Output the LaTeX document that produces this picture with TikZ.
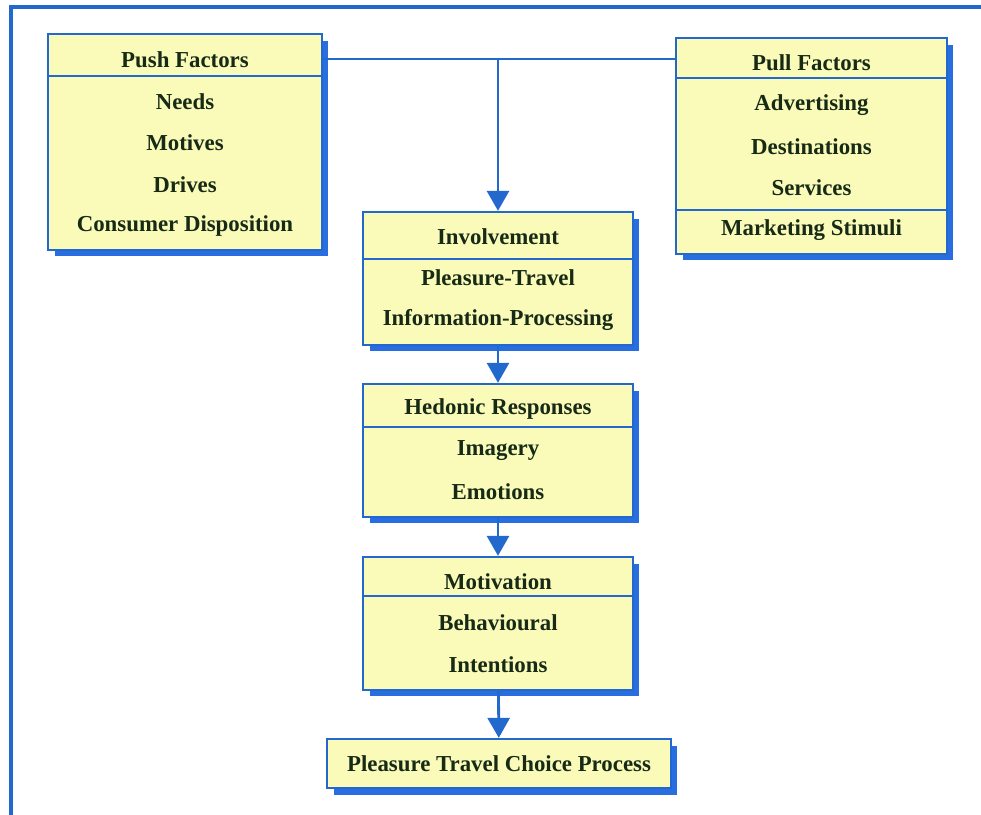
\documentclass[tikz,border=0pt]{standalone}
\usepackage{fontspec}
\setmainfont{Liberation Serif}
\usetikzlibrary{arrows.meta,shadows}
\definecolor{frameblue}{RGB}{35,105,205}
\definecolor{boxfill}{RGB}{250,250,185}
\definecolor{shadeblue}{RGB}{40,110,225}
\definecolor{inkgreen}{RGB}{22,42,22}

\begin{document}
\begin{tikzpicture}[x=0.02cm,y=-0.02cm,
  box/.style={draw=frameblue,line width=1.3pt,fill=boxfill,inner sep=0pt,
    drop shadow={shadow xshift=0.13cm,shadow yshift=-0.13cm,fill=shadeblue,opacity=1}},
  txt/.style={font=\fontsize{13}{15}\selectfont\bfseries,text=inkgreen,inner sep=1pt},
  rule/.style={draw=frameblue,line width=1.3pt},
  link/.style={draw=frameblue,line width=1.6pt},
  arrow/.style={link,-{Triangle[width=0.44cm,length=0.4cm]}}
]
\useasboundingbox (0,0) rectangle (981,815);
\draw[frameblue,line width=2.3pt] (11,815) -- (11,7) -- (981,7);

% factor boxes
\node[box,minimum width=5.48cm,minimum height=4.32cm] (push) at (185,142) {};
\node[box,minimum width=5.42cm,minimum height=4.32cm] (pull) at (811.5,146) {};
\draw[rule] (push.west |- 0,76) -- (push.east |- 0,76);
\draw[rule] (pull.west |- 0,78) -- (pull.east |- 0,78);
\draw[rule] (pull.west |- 0,210) -- (pull.east |- 0,210);

\node[txt] (pushhead) at (185,60) {Push Factors};
\node[txt] (needs) at (185,102) {Needs};
\node[txt] (motives) at (185,143) {Motives};
\node[txt] (drives) at (185,185) {Drives};
\node[txt] (dispo) at (185,226) {Consumer Disposition};

\node[txt] (pullhead) at (811.5,63) {Pull Factors};
\node[txt] (advert) at (811.5,105) {Advertising};
\node[txt] (dest) at (811.5,147) {Destinations};
\node[txt] (serv) at (811.5,188) {Services};
\node[txt] (stimuli) at (811.5,230) {Marketing Stimuli};

% middle column
\node[box,minimum width=5.4cm,minimum height=2.66cm] (inv) at (498,278.5) {};
\node[box,minimum width=5.4cm,minimum height=2.66cm] (hed) at (498,450.5) {};
\node[box,minimum width=5.4cm,minimum height=2.66cm] (mot) at (498,623.5) {};
\node[box,minimum width=6.88cm,minimum height=0.98cm] (choice) at (499,763.5) {};
\draw[rule] (inv.west |- 0,259) -- (inv.east |- 0,259);
\draw[rule] (hed.west |- 0,427) -- (hed.east |- 0,427);
\draw[rule] (mot.west |- 0,596) -- (mot.east |- 0,596);

\node[txt] (invhead) at (498,237) {Involvement};
\node[txt] (pleasure) at (498,278) {Pleasure-Travel};
\node[txt] (info) at (498,320) {Information-Processing};
\node[txt] (hedhead) at (498,409) {Hedonic Responses};
\node[txt] (imagery) at (498,451) {Imagery};
\node[txt] (emotions) at (498,492) {Emotions};
\node[txt] (mothead) at (498,582) {Motivation};
\node[txt] (behav) at (498,623) {Behavioural};
\node[txt] (intent) at (498,665) {Intentions};
\node[txt] (choicetxt) at (499,764) {Pleasure Travel Choice Process};

% connectors
\coordinate (junc) at (498,59);
\draw[link] (junc -| push.east) -- (junc -| pull.west);
\draw[arrow] (junc) -- (inv);
\draw[arrow] (inv) -- (hed);
\draw[arrow] (hed) -- (mot);
\draw[arrow] (mot) -- (choice);
\end{tikzpicture}
\end{document}
